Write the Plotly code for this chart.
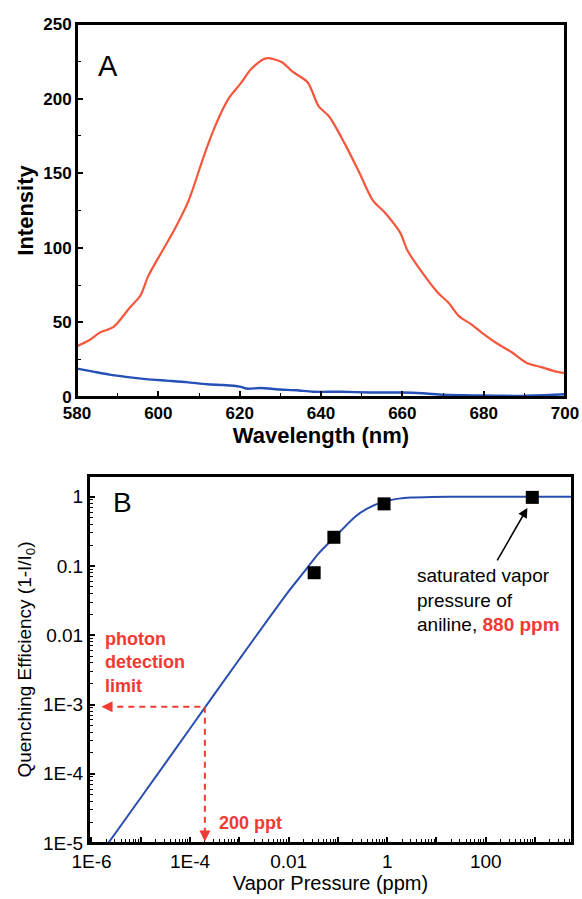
import numpy as np
import plotly.graph_objects as go

# ---------------- Panel A data ----------------
red_wl = [580, 583, 585.5, 589, 593, 595.6, 597.5, 601, 604.3, 607.5, 611, 613.3, 615.7,
          617.5, 620.2, 622.9, 626.5, 630.3, 633, 636.7, 639.4, 642, 645.8, 649.5, 652.7,
          655.9, 659.5, 661.3, 665, 668.7, 671.4, 674, 676.8, 679.6, 683.2, 686.9, 690.5,
          694.2, 697.9, 700]
red_int = [34, 38, 43, 47, 60, 68, 81, 98, 114, 132, 160, 177, 192,
           201, 210, 220, 227, 224.5, 218, 211, 195, 188, 170, 150, 132,
           123, 110, 98, 83, 70, 63, 54, 49, 43, 36, 30, 23,
           20, 17, 16]

blue_wl = [580, 584, 588, 592, 597, 602, 607, 612, 616, 620, 622, 625, 630, 634, 638,
           645, 652, 660, 665, 670, 675, 680, 685, 690, 695, 700]
blue_int = [19, 17, 15, 13.5, 12, 11, 10, 8.5, 8, 7, 5.5, 6, 5, 4.5, 3.5,
            3.5, 3, 3, 2.5, 1.5, 1.2, 1, 0.8, 0.8, 1.2, 1.8]

a_xticks = [580, 600, 620, 640, 660, 680, 700]
a_yticks = [0, 50, 100, 150, 200, 250]

# ---------------- Panel B data ----------------
pts_x = [0.033, 0.083, 0.865, 880]
pts_y = [0.08, 0.26, 0.79, 0.98]

fit_x = [2.2e-6, 1e-5, 1e-4, 1e-3, 0.01, 0.02, 0.04, 0.089, 0.227, 0.4, 0.853, 1.72, 3, 8, 30,
         1000, 6000]
fit_y = [1e-5, 4.5e-5, 4.5e-4, 4.5e-3, 0.043, 0.08, 0.15, 0.267, 0.52, 0.68, 0.85, 0.94,
         0.975, 0.995, 1.0, 1.0, 1.0]

limit_x = 2e-4   # 200 ppt
limit_y = 1e-3   # photon detection limit
left_x = 1.6e-6
bottom_y = 1.05e-5

b_ytick_vals = [1e-5, 1e-4, 1e-3, 1e-2, 1e-1, 1]
b_ytick_text = ["1E-5", "1E-4", "1E-3", "0.01", "0.1", "1"]
b_xtick_vals = [1e-6, 1e-5, 1e-4, 1e-3, 1e-2, 1e-1, 1, 10, 100, 1000]
b_xtick_text = ["1E-6", "", "1E-4", "", "0.01", "", "1", "", "100", ""]

FONT = "Liberation Sans, Arial, sans-serif"
RED_ANN = "#f03a32"

W, H = 582, 899

fig = go.Figure()

fig.add_trace(go.Scatter(x=red_wl, y=red_int, mode="lines",
                         line=dict(color="#f5573c", width=2.2, shape="spline", smoothing=0.8),
                         xaxis="x", yaxis="y", showlegend=False))
fig.add_trace(go.Scatter(x=blue_wl, y=blue_int, mode="lines",
                         line=dict(color="#2450b8", width=2.4, shape="spline", smoothing=0.6),
                         xaxis="x", yaxis="y", showlegend=False))

fig.add_trace(go.Scatter(x=fit_x, y=fit_y, mode="lines",
                         line=dict(color="#2a4db0", width=2, shape="spline", smoothing=0.8),
                         xaxis="x2", yaxis="y2", showlegend=False))
fig.add_trace(go.Scatter(x=pts_x, y=pts_y, mode="markers",
                         marker=dict(symbol="square", size=13, color="black"),
                         xaxis="x2", yaxis="y2", showlegend=False))
# dashed guide lines
fig.add_trace(go.Scatter(x=[left_x * 1.25, limit_x], y=[limit_y * 0.93, limit_y * 0.93], mode="lines",
                         line=dict(color=RED_ANN, width=2, dash="6px,5px"),
                         xaxis="x2", yaxis="y2", showlegend=False))
fig.add_trace(go.Scatter(x=[limit_x, limit_x], y=[limit_y * 0.93, bottom_y * 1.25], mode="lines",
                         line=dict(color=RED_ANN, width=2, dash="6px,5px"),
                         xaxis="x2", yaxis="y2", showlegend=False))

axis_common = dict(showline=True, linewidth=2, linecolor="#000000", mirror=True,
                   ticks="inside", ticklen=6, tickwidth=2, tickcolor="#000000",
                   showgrid=False, zeroline=False, automargin=False)

fig.update_layout(
    width=W, height=H,
    margin=dict(l=0, r=0, t=0, b=0),
    paper_bgcolor="white", plot_bgcolor="white",
    font=dict(family=FONT, color="black"),
    modebar=dict(bgcolor="rgba(0,0,0,0)", color="rgba(0,0,0,0)", activecolor="rgba(0,0,0,0)"),
    xaxis=dict(domain=[77 / W, 565 / W], anchor="y", range=[580, 700],
               tickmode="array", tickvals=a_xticks,
               minor=dict(dtick=10, tick0=580, ticks="inside", ticklen=4, tickwidth=1, tickcolor="#000000"),
               tickfont=dict(size=17, weight="bold"),
               title=dict(text="<b>Wavelength (nm)</b>", font=dict(size=22), standoff=2),
               **axis_common),
    yaxis=dict(domain=[1 - 397 / H, 1 - 24 / H], anchor="x", range=[0, 250],
               tickmode="array", tickvals=a_yticks,
               minor=dict(dtick=25, tick0=0, ticks="inside", ticklen=4, tickwidth=1, tickcolor="#000000"),
               tickfont=dict(size=17, weight="bold"),
               title=dict(text="<b>Intensity</b>", font=dict(size=22), standoff=4),
               **axis_common),
    xaxis2=dict(domain=[89 / W, 572 / W], anchor="y2", type="log", range=[-6.05, 3.75],
                tickmode="array", tickvals=b_xtick_vals, ticktext=b_xtick_text,
                minor=dict(dtick="D1", ticks="inside", ticklen=4, tickwidth=1, tickcolor="#000000"),
                tickfont=dict(size=19),
                title=dict(text="Vapor Pressure (ppm)", font=dict(size=20), standoff=4),
                **axis_common),
    yaxis2=dict(domain=[1 - 843 / H, 1 - 476 / H], anchor="x2", type="log", range=[-5, 0.30],
                tickmode="array", tickvals=b_ytick_vals, ticktext=b_ytick_text,
                minor=dict(dtick="D1", ticks="inside", ticklen=4, tickwidth=1, tickcolor="#000000"),
                tickfont=dict(size=19),
                title=dict(text="Quenching Efficiency (1-I/I<sub>0</sub>)", font=dict(size=19), standoff=6),
                **axis_common),
)

# panel frames, also drawn as outline shapes
for xr, yr in (("x domain", "y domain"), ("x2 domain", "y2 domain")):
    fig.add_shape(type="rect", xref=xr, yref=yr, x0=0, x1=1, y0=0, y1=1,
                  fillcolor="rgba(0,0,0,0)", opacity=1,
                  line=dict(color="#000000", width=2), layer="above")

annotations = [
    dict(x=587.5, y=222, xref="x", yref="y", text="A", showarrow=False,
         font=dict(size=29, color="black")),
    dict(x=np.log10(4.2e-6), y=np.log10(0.82), xref="x2", yref="y2", text="B", showarrow=False,
         font=dict(size=28, color="black")),
    dict(x=np.log10(1.75e-6), y=np.log10(0.004), xref="x2", yref="y2",
         text="<b>photon<br>detection<br>limit</b>", showarrow=False, align="left",
         xanchor="left", yanchor="middle", font=dict(size=18, color=RED_ANN)),
    dict(x=np.log10(3.6e-4), y=np.log10(1.95e-5), xref="x2", yref="y2",
         text="<b>200 ppt</b>", showarrow=False, xanchor="left", yanchor="middle",
         font=dict(size=18, color=RED_ANN)),
    # arrowheads of the dashed guides
    dict(x=np.log10(left_x), y=np.log10(limit_y * 0.93), xref="x2", yref="y2", text="",
         showarrow=True, arrowhead=2, arrowsize=1.1, arrowwidth=2, arrowcolor=RED_ANN,
         ax=12, ay=0),
    dict(x=np.log10(limit_x), y=np.log10(bottom_y), xref="x2", yref="y2", text="",
         showarrow=True, arrowhead=2, arrowsize=1.1, arrowwidth=2, arrowcolor=RED_ANN,
         ax=0, ay=-12),
    # saturated vapor pressure arrow
    dict(x=np.log10(700), y=np.log10(0.69), xref="x2", yref="y2", text="",
         showarrow=True, arrowhead=2, arrowsize=1.2, arrowwidth=1.6, arrowcolor="black",
         ax=-31, ay=54),
    dict(x=np.log10(3.6), y=np.log10(0.0325), xref="x2", yref="y2",
         text="saturated vapor<br>pressure of<br>aniline, <b><span style='color:%s'>880 ppm</span></b>" % RED_ANN,
         showarrow=False, align="left", xanchor="left", yanchor="middle",
         font=dict(size=19, color="black")),
]
fig.update_layout(annotations=annotations)

fig.write_html("out.html",
               post_script=("document.body.style.margin='0';document.body.style.overflow='hidden';"
                            "var s=document.createElement('style');"
                            "s.innerHTML='.modebar-container{display:none !important;}';"
                            "document.head.appendChild(s);"))
